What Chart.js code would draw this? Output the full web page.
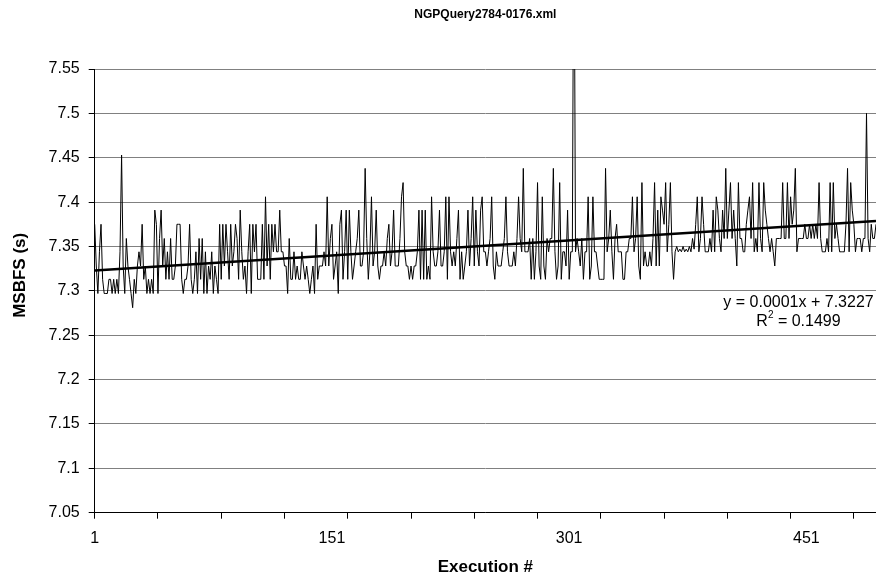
<!DOCTYPE html>
<html>
<head>
<meta charset="utf-8">
<script src="https://cdn.jsdelivr.net/npm/chart.js@4.4.0/dist/chart.umd.min.js"></script>
<style>
  body { margin: 0; background: #fff; }
  #wrap { width: 876px; height: 587px; }
</style>
</head>
<body>
<div id="wrap"><canvas id="myChart"></canvas></div>
<script>
const ctx = document.getElementById('myChart');

// MSBFS time (s) per execution
const msbfs = [
  7.375, 7.328, 7.297, 7.344, 7.375, 7.313, 7.297, 7.297, 7.297, 7.313,
  7.313, 7.297, 7.313, 7.297, 7.313, 7.297, 7.344, 7.453, 7.328, 7.297,
  7.359, 7.328, 7.313, 7.297, 7.281, 7.313, 7.297, 7.328, 7.344, 7.328,
  7.375, 7.313, 7.328, 7.297, 7.313, 7.297, 7.313, 7.297, 7.391, 7.375,
  7.297, 7.359, 7.391, 7.328, 7.359, 7.313, 7.344, 7.313, 7.359, 7.313,
  7.313, 7.328, 7.375, 7.375, 7.375, 7.313, 7.297, 7.313, 7.313, 7.328,
  7.375, 7.313, 7.297, 7.313, 7.344, 7.297, 7.359, 7.313, 7.359, 7.297,
  7.344, 7.297, 7.328, 7.313, 7.344, 7.297, 7.328, 7.313, 7.297, 7.375,
  7.313, 7.375, 7.328, 7.375, 7.344, 7.313, 7.375, 7.328, 7.344, 7.375,
  7.359, 7.313, 7.391, 7.344, 7.313, 7.328, 7.297, 7.344, 7.375, 7.297,
  7.375, 7.344, 7.375, 7.313, 7.313, 7.313, 7.375, 7.313, 7.406, 7.328,
  7.375, 7.313, 7.375, 7.344, 7.375, 7.344, 7.344, 7.391, 7.344, 7.344,
  7.328, 7.328, 7.297, 7.359, 7.313, 7.313, 7.344, 7.313, 7.328, 7.313,
  7.313, 7.344, 7.328, 7.313, 7.328, 7.313, 7.297, 7.313, 7.328, 7.297,
  7.375, 7.313, 7.328, 7.328, 7.328, 7.344, 7.328, 7.406, 7.328, 7.359,
  7.375, 7.313, 7.328, 7.344, 7.297, 7.375, 7.391, 7.313, 7.344, 7.391,
  7.313, 7.391, 7.344, 7.313, 7.328, 7.344, 7.359, 7.391, 7.328, 7.328,
  7.344, 7.438, 7.359, 7.313, 7.344, 7.406, 7.328, 7.344, 7.391, 7.328,
  7.313, 7.328, 7.328, 7.344, 7.328, 7.359, 7.375, 7.328, 7.344, 7.391,
  7.328, 7.328, 7.328, 7.359, 7.406, 7.422, 7.344, 7.328, 7.328, 7.313,
  7.328, 7.313, 7.328, 7.328, 7.344, 7.391, 7.313, 7.391, 7.313, 7.391,
  7.313, 7.328, 7.313, 7.406, 7.344, 7.328, 7.328, 7.344, 7.391, 7.328,
  7.328, 7.344, 7.406, 7.313, 7.406, 7.344, 7.328, 7.344, 7.328, 7.359,
  7.391, 7.313, 7.344, 7.313, 7.328, 7.344, 7.391, 7.328, 7.359, 7.406,
  7.328, 7.391, 7.344, 7.328, 7.391, 7.406, 7.344, 7.344, 7.328, 7.344,
  7.359, 7.406, 7.328, 7.313, 7.344, 7.328, 7.328, 7.328, 7.344, 7.359,
  7.406, 7.344, 7.328, 7.328, 7.328, 7.344, 7.328, 7.359, 7.406, 7.359,
  7.344, 7.438, 7.344, 7.344, 7.344, 7.359, 7.313, 7.359, 7.313, 7.344,
  7.422, 7.328, 7.313, 7.406, 7.328, 7.313, 7.359, 7.344, 7.359, 7.359,
  7.438, 7.344, 7.313, 7.328, 7.422, 7.313, 7.344, 7.344, 7.328, 7.391,
  7.313, 7.344, 7.344, 7.780, 7.344, 7.359, 7.344, 7.328, 7.359, 7.313,
  7.344, 7.344, 7.406, 7.313, 7.328, 7.406, 7.344, 7.344, 7.328, 7.313,
  7.313, 7.313, 7.313, 7.438, 7.344, 7.359, 7.391, 7.344, 7.313, 7.359,
  7.375, 7.344, 7.344, 7.344, 7.313, 7.313, 7.344, 7.344, 7.359, 7.359,
  7.406, 7.344, 7.359, 7.406, 7.328, 7.313, 7.422, 7.328, 7.344, 7.328,
  7.328, 7.344, 7.328, 7.359, 7.422, 7.328, 7.391, 7.328, 7.406, 7.391,
  7.375, 7.422, 7.344, 7.375, 7.422, 7.344, 7.313, 7.344, 7.350, 7.344,
  7.347, 7.344, 7.350, 7.344, 7.347, 7.344, 7.350, 7.344, 7.359, 7.347,
  7.375, 7.406, 7.344, 7.359, 7.406, 7.375, 7.344, 7.344, 7.344, 7.359,
  7.344, 7.391, 7.344, 7.406, 7.391, 7.359, 7.344, 7.391, 7.359, 7.438,
  7.359, 7.391, 7.422, 7.359, 7.391, 7.359, 7.328, 7.422, 7.359, 7.359,
  7.344, 7.344, 7.375, 7.391, 7.406, 7.359, 7.422, 7.344, 7.359, 7.344,
  7.422, 7.359, 7.344, 7.422, 7.391, 7.375, 7.359, 7.344, 7.359, 7.344,
  7.328, 7.359, 7.359, 7.359, 7.359, 7.422, 7.359, 7.359, 7.422, 7.359,
  7.406, 7.375, 7.391, 7.438, 7.344, 7.359, 7.359, 7.359, 7.359, 7.375,
  7.359, 7.359, 7.375, 7.359, 7.375, 7.359, 7.375, 7.359, 7.422, 7.359,
  7.344, 7.344, 7.344, 7.359, 7.344, 7.422, 7.344, 7.422, 7.359, 7.375,
  7.359, 7.344, 7.344, 7.344, 7.344, 7.375, 7.438, 7.344, 7.422, 7.391,
  7.375, 7.344, 7.359, 7.359, 7.359, 7.344, 7.359, 7.359, 7.500, 7.359,
  7.344, 7.375, 7.359, 7.359, 7.375
];

// x axis: labelled executions and where the small tick marks go
const xLabels = [1, 151, 301, 451];
const xTickMarks = [1, 41, 81, 121, 161, 201, 241, 281, 321, 361, 401, 441, 481];

// linear trend shown on the chart
const trendSlope = 0.000113;
const trendIntercept = 7.3227;
const trendText = ['y = 0.0001x + 7.3227', '0.1499'];

const font = "'Liberation Sans', Arial, sans-serif";
Chart.defaults.font.family = font;
Chart.defaults.color = '#000';

let points = msbfs.map((v, i) => ({ x: i + 1, y: v }));
let lastX = msbfs.length;
let trend = [
  { x: 1, y: trendIntercept + trendSlope * 1 },
  { x: lastX, y: trendIntercept + trendSlope * lastX }
];

// equation / R^2 text next to the trend line, and the y axis title
const extraText = {
  id: 'extraText',
  afterDatasetsDraw(chart) {
    const c = chart.ctx;
    const cx = chart.scales.x.getPixelForValue(446);
    const y1 = chart.scales.y.getPixelForValue(7.2873);
    c.save();
    c.fillStyle = '#000';
    c.textBaseline = 'middle';
    c.font = '16px ' + font;
    c.textAlign = 'center';
    c.fillText(trendText[0], cx, y1);
    // second line: R² = ...
    const y2 = y1 + 19;
    const rest = ' = ' + trendText[1];
    c.textAlign = 'left';
    const wR = c.measureText('R').width;
    const wRest = c.measureText(rest).width;
    c.font = '10px ' + font;
    const wSup = c.measureText('2').width;
    let x0 = cx - (wR + wSup + wRest) / 2;
    c.font = '16px ' + font;
    c.fillText('R', x0, y2);
    c.font = '10px ' + font;
    c.fillText('2', x0 + wR, y2 - 6);
    c.font = '16px ' + font;
    c.fillText(rest, x0 + wR + wSup, y2);

    // y axis title, sits a bit above the plot middle like the original
    c.translate(20, chart.scales.y.getPixelForValue(7.3175));
    c.rotate(-Math.PI / 2);
    c.textAlign = 'center';
    c.font = 'bold 17px ' + font;
    c.fillText('MSBFS (s)', 0, 0);
    c.restore();
  }
};

new Chart(ctx, {
  type: 'line',
  data: {
    datasets: [
      {
        label: 'MSBFS',
        data: points,
        borderColor: '#000',
        borderWidth: 1,
        pointRadius: 0,
        tension: 0
      },
      {
        label: 'Trend',
        data: trend,
        borderColor: '#000',
        borderWidth: 2.5,
        pointRadius: 0
      }
    ]
  },
  options: {
    responsive: true,
    maintainAspectRatio: false,
    animation: false,
    layout: { padding: 0 },
    plugins: {
      legend: { display: false },
      tooltip: { enabled: false },
      title: {
        display: true,
        text: 'NGPQuery2784-0176.xml',
        fullSize: false,
        font: { size: 12, weight: 'bold' },
        color: '#000',
        padding: { top: 7, bottom: 47.6 }
      }
    },
    scales: {
      x: {
        type: 'linear',
        min: 1,
        max: lastX,
        afterBuildTicks(scale) {
          let vals = [...new Set(xTickMarks.concat(xLabels))].sort((a, b) => a - b);
          scale.ticks = vals.map(v => ({ value: v }));
        },
        afterFit(scale) { scale.height = 74.3; },
        ticks: {
          autoSkip: false,
          maxRotation: 0,
          padding: 10,
          font: { size: 16 },
          callback: (v) => xLabels.includes(v) ? String(v) : ''
        },
        grid: {
          drawOnChartArea: false,
          tickLength: 6,
          color: (c) => (c.tick && xTickMarks.includes(c.tick.value)) ? '#000' : 'rgba(0,0,0,0)'
        },
        border: { color: '#000' },
        title: {
          display: true,
          text: 'Execution #',
          font: { size: 17, weight: 'bold' },
          color: '#000',
          padding: { top: 0, bottom: 9 }
        }
      },
      y: {
        min: 7.05,
        max: 7.55,
        afterFit(scale) { scale.width = 94.7; },
        ticks: {
          stepSize: 0.05,
          padding: 9,
          font: { size: 16 },
          callback: (v) => String(Number(v.toFixed(2)))
        },
        grid: {
          color: '#808080',
          tickColor: '#000',
          tickLength: 6
        },
        border: { color: '#000' }
      }
    }
  },
  plugins: [extraText]
});
</script>
</body>
</html>
